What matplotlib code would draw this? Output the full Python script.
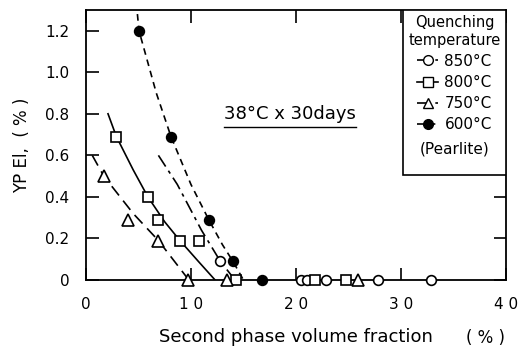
import matplotlib
matplotlib.use("Agg")
import matplotlib.pyplot as plt
from matplotlib.lines import Line2D

# measured points (second phase volume fraction %, YP El %)
t850_x = [12.8, 20.5, 21.1, 22.9, 27.8, 32.9]
t850_y = [0.09, 0.0, 0.0, 0.0, 0.0, 0.0]
t800_x = [2.9, 5.9, 6.9, 8.95, 10.8, 14.3, 21.8, 24.8]
t800_y = [0.69, 0.40, 0.29, 0.19, 0.19, 0.0, 0.0, 0.0]
t750_x = [1.7, 4.0, 6.9, 9.7, 13.4, 25.9]
t750_y = [0.50, 0.29, 0.19, 0.0, 0.0, 0.0]
t600_x = [5.05, 8.1, 11.7, 14.0, 16.8]
t600_y = [1.2, 0.69, 0.29, 0.09, 0.0]

# hand-drawn trend curves
c850_x = [6.9, 8.7, 11.0, 12.8, 14.2]
c850_y = [0.60, 0.46, 0.24, 0.09, 0.0]
c800_x = [2.1, 2.9, 4.5, 5.9, 7.5, 8.95, 10.7, 12.3]
c800_y = [0.80, 0.69, 0.53, 0.40, 0.28, 0.19, 0.09, 0.0]
c750_x = [0.6, 1.7, 4.5, 6.9, 9.8]
c750_y = [0.60, 0.50, 0.32, 0.19, 0.0]
c600_x = [4.9, 5.05, 6.7, 8.1, 10.0, 11.7, 13.0, 14.0, 15.0]
c600_y = [1.28, 1.2, 0.90, 0.69, 0.46, 0.29, 0.17, 0.09, 0.0]

xticks = [0, 10, 20, 30, 40]
xticklabels = ["0", "1 0", "2 0", "3 0", "4 0"]
yticks = [0, 0.2, 0.4, 0.6, 0.8, 1.0, 1.2]
yticklabels = ["0", "0.2", "0.4", "0.6", "0.8", "1.0", "1.2"]
legend_labels = ["850°C", "800°C", "750°C", "600°C"]

plt.rcParams['font.family'] = ['DejaVu Sans']
fig = plt.figure(figsize=(5.21, 3.54), dpi=100)
ax = fig.add_axes([0.165, 0.209, 0.806, 0.763])

ls850 = (0, (8, 3, 2, 3))
ls750 = (0, (7, 4))
ls600 = (0, (4, 3))

ax.plot(c850_x, c850_y, color='k', lw=1.2, ls=ls850)
ax.plot(c800_x, c800_y, color='k', lw=1.2, ls='-')
ax.plot(c750_x, c750_y, color='k', lw=1.2, ls=ls750)
ax.plot(c600_x, c600_y, color='k', lw=1.2, ls=ls600)

mk = dict(ls='none', mec='k', mew=1.2, clip_on=False, zorder=5)
ax.plot(t850_x, t850_y, marker='o', mfc='white', ms=7, **mk)
ax.plot(t800_x, t800_y, marker='s', mfc='white', ms=7, **mk)
ax.plot(t750_x, t750_y, marker='^', mfc='white', ms=8, **mk)
ax.plot(t600_x, t600_y, marker='o', mfc='k', ms=7, **mk)

ax.set_xlim(0, 40)
ax.set_ylim(0, 1.3)
ax.set_xticks(xticks)
ax.set_xticklabels(xticklabels)
ax.set_yticks(yticks)
ax.set_yticklabels(yticklabels)
ax.tick_params(direction='in', length=9, width=1.2, labelsize=11, pad=12,
               top=True, right=True)
for s in ax.spines.values():
    s.set_linewidth(1.3)

ax.set_ylabel("YP El,  ( % )", fontsize=12, labelpad=10)
ax.set_xlabel("Second phase volume fraction", fontsize=13, labelpad=12)
fig.text(0.97, 0.03, "( % )", fontsize=12, ha='right')

txt = ax.text(19.4, 0.80, "38°C x 30days", fontsize=13, ha='center', va='center')
fig.canvas.draw()
bb = txt.get_window_extent().transformed(ax.transData.inverted())
ax.plot([bb.x0, bb.x1], [bb.y0 - 0.02, bb.y0 - 0.02], color='k', lw=1.0)

handles = [
    Line2D([], [], color='k', ls=ls850, lw=1.2, marker='o', mfc='white', mec='k', ms=7),
    Line2D([], [], color='k', ls='-', lw=1.2, marker='s', mfc='white', mec='k', ms=7),
    Line2D([], [], color='k', ls=ls750, lw=1.2, marker='^', mfc='white', mec='k', ms=7),
    Line2D([], [], color='k', ls=ls600, lw=1.2, marker='o', mfc='k', mec='k', ms=7),
]
leg = ax.legend(handles, legend_labels, title="Quenching\ntemperature", loc='upper right',
                borderaxespad=0, fontsize=11, title_fontsize=10.5, handlelength=1.4,
                handletextpad=0.4, labelspacing=0.4, frameon=False, borderpad=0.35)
leg.get_title().set_multialignment('center')
leg.set_zorder(7)

# legend frame is drawn by hand so "(Pearlite)" fits inside it
fig.canvas.draw()
lb = leg.get_window_extent().transformed(ax.transAxes.inverted())
ax.text((lb.x0 + lb.x1) / 2, lb.y0 - 0.015, "(Pearlite)", fontsize=11,
        ha='center', va='top', transform=ax.transAxes, zorder=8)
ax.add_patch(plt.Rectangle((lb.x0, lb.y0 - 0.14), lb.x1 - lb.x0, lb.y1 - lb.y0 + 0.14,
                           transform=ax.transAxes, fc='white', ec='k', lw=1.2, zorder=6))

fig.savefig("out.png", dpi=100)
